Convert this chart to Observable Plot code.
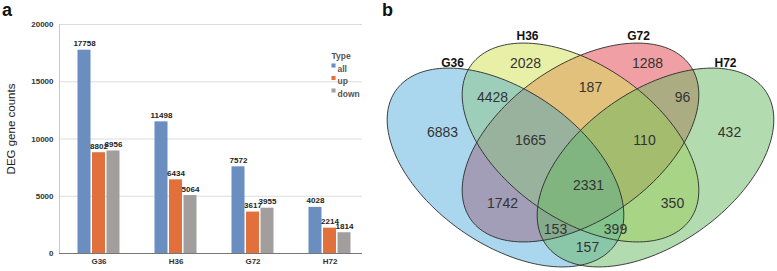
<!DOCTYPE html>
<html><head><meta charset="utf-8">
<script src="https://cdn.jsdelivr.net/npm/d3@7"></script>
<script src="https://cdn.jsdelivr.net/npm/@observablehq/plot@0.6"></script>
<style>
body{margin:0;background:#fff;font-family:"Liberation Sans",Arial,sans-serif;}
#wrap{position:relative;width:777px;height:271px;overflow:hidden}
#a{position:absolute;left:0;top:0}
#b{position:absolute;left:370px;top:0}
.lab{position:absolute;font-weight:bold;font-size:18px;line-height:20px;color:#111}
</style></head><body>
<div id="wrap"><div id="a"></div><div id="b"></div>
<div class="lab" style="left:2px;top:0px">a</div>
<div class="lab" style="left:382px;top:0px">b</div></div>
<script>
// ---- panel a data ----
const groups = ["G36", "H36", "G72", "H72"];
const types = ["all", "up", "down"];
const typeColors = ["#6a8ec0", "#e2703a", "#a39e9e"];
const allCounts = [17758, 11498, 7572, 4028];
const upCounts = [8802, 6434, 3617, 2214];
const downCounts = [8956, 5064, 3955, 1814];
const yTicks = [0, 5000, 10000, 15000, 20000];
const yLabel = "DEG gene counts";
const legendTitle = "Type";

// ---- panel b data ----
const vennSets = ["G36", "H36", "G72", "H72"];
const vennColors = ["#2d9bd4", "#d1e151", "#e14149", "#67b761"];
const vennOpacity = [0.4, 0.5, 0.5, 0.5];
const regionCounts = [6883, 2028, 1288, 432, 4428, 187, 96, 1665, 110, 2331, 1742, 350, 153, 399, 157];

// layout (not data)
const ellipseCx = [-0.75, 0, 0, 0.75];
const ellipseCy = [-0.12, 0.13, 0.13, -0.12];
const ellipseRot = [-35, -35, 35, 35];
const ellipseA = 1.34, ellipseB = 0.77;
const regionX = [-1.38, -0.55, 0.67, 1.49, -0.88, 0.10, 1.02, -0.50, 0.64, 0.08, -0.78, 0.92, -0.25, 0.35, 0.07];
const regionY = [0.23, 0.92, 0.92, 0.23, 0.58, 0.68, 0.58, 0.15, 0.15, -0.30, -0.48, -0.48, -0.74, -0.74, -0.92];
const setLabelX = [-1.28, -0.53, 0.58, 1.45];
const setLabelY = [0.92, 1.19, 1.19, 0.92];
const barDx = [-14.5, 0, 14.5];

const series = [allCounts, upCounts, downCounts];
const font = "Liberation Sans, Arial, sans-serif";

const barMarks = [];
types.forEach((t, k) => {
  const rows = groups.map((g, i) => ({group: g, type: t, value: series[k][i]}));
  barMarks.push(Plot.barY(rows, {x: "group", y: "value", fill: typeColors[k], dx: barDx[k], insetLeft: 0, insetRight: 0}));
  barMarks.push(Plot.text(rows, {x: "group", y: "value", text: d => String(d.value), dx: barDx[k], dy: -4, lineAnchor: "bottom", fill: "#222", fontSize: 8, fontWeight: "bold"}));
});

const legendMarks = [
  Plot.text([legendTitle], {frameAnchor: "top-right", dx: -31, dy: 28, textAnchor: "start", fill: "#555", fontSize: 8.5, fontWeight: "bold"})
];
types.forEach((t, k) => {
  legendMarks.push(Plot.dot([t], {frameAnchor: "top-right", dx: -29, dy: 41 + 12.5 * k, symbol: "square", r: 2.3, fill: typeColors[k], stroke: "none"}));
  legendMarks.push(Plot.text([t], {frameAnchor: "top-right", dx: -25, dy: 41 + 12.5 * k, textAnchor: "start", fill: "#555", fontSize: 8.5, fontWeight: "bold"}));
});

const chartA = Plot.plot({
  width: 370, height: 271,
  marginLeft: 59, marginRight: 8, marginTop: 24, marginBottom: 18,
  style: {fontFamily: font, fontSize: "8px", fontWeight: "bold", color: "#333", background: "transparent"},
  x: {type: "band", domain: groups, paddingInner: 0.83, paddingOuter: 0.3825, align: 0.552},
  y: {domain: [0, 20000]},
  marks: [
    Plot.gridY(yTicks, {stroke: "#dcdcdc", strokeOpacity: 1}),
    Plot.frame({anchor: "left", stroke: "#c8c8c8"}),
    ...barMarks,
    Plot.ruleY([0], {stroke: "#777"}),
    Plot.axisY(yTicks, {tickSize: 0, tickPadding: 6, tickFormat: d => String(d), label: null}),
    Plot.axisX({tickSize: 0, tickPadding: 5, label: null}),
    Plot.text([yLabel], {frameAnchor: "left", textAnchor: "middle", dx: -48, dy: -10, rotate: -90, fontSize: 11.5, fontWeight: "normal", fill: "#222"}),
    ...legendMarks
  ]
});
document.getElementById("a").appendChild(chartA);

// ---- Venn ----
function ellipsePoints(i) {
  const r = ellipseRot[i] * Math.PI / 180;
  const pts = [];
  for (let d = 0; d < 360; d += 2) {
    const t = d * Math.PI / 180;
    const u = ellipseA * Math.cos(t), v = ellipseB * Math.sin(t);
    pts.push({set: vennSets[i], x: ellipseCx[i] + u * Math.cos(r) - v * Math.sin(r), y: ellipseCy[i] + u * Math.sin(r) + v * Math.cos(r)});
  }
  return pts;
}
const fillOrder = [2, 1, 0, 3];
const fillMarks = fillOrder.map(i => Plot.line(ellipsePoints(i), {x: "x", y: "y", curve: "linear-closed", fill: vennColors[i], fillOpacity: vennOpacity[i], stroke: "none"}));
const strokeMarks = vennSets.map((s, i) => Plot.line(ellipsePoints(i), {x: "x", y: "y", curve: "linear-closed", stroke: "#2a2a2a", strokeWidth: 0.9, fill: "none"}));

const regions = regionCounts.map((c, i) => ({count: c, x: regionX[i], y: regionY[i]}));
const setLabels = vennSets.map((s, i) => ({name: s, x: setLabelX[i], y: setLabelY[i]}));

const chartB = Plot.plot({
  width: 407, height: 271,
  margin: 0,
  style: {fontFamily: font, background: "transparent"},
  x: {domain: [-2.10, 1.97], axis: null},
  y: {domain: [-1.16, 1.55], axis: null},
  marks: [
    ...fillMarks,
    ...strokeMarks,
    Plot.text(regions, {x: "x", y: "y", text: d => String(d.count), fontSize: 14, fill: "#333"}),
    Plot.text(setLabels, {x: "x", y: "y", text: "name", fontSize: 12, fontWeight: "bold", fill: "#111"})
  ]
});
document.getElementById("b").appendChild(chartB);
</script>
</body></html>
